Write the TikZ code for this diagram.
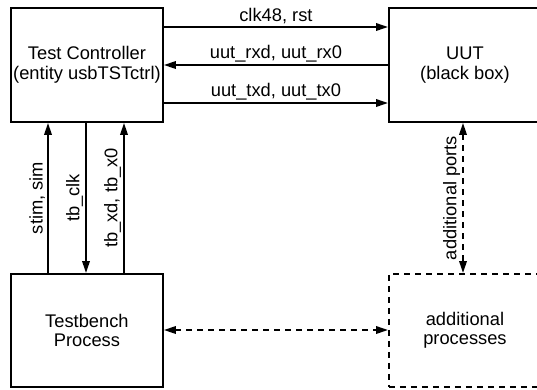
\documentclass[tikz,border=0pt]{standalone}
\usepackage{fontspec}
\setmainfont{Liberation Sans}
\usetikzlibrary{arrows.meta}
\begin{document}
\begin{tikzpicture}[x=1pt,y=-1pt,line width=1.9pt,
  txt/.style={font=\fontsize{18.3}{19.5}\selectfont},
  box/.style={draw, txt, inner sep=0pt, align=center, anchor=north west},
  sig/.style={-{Triangle[length=12pt,width=7.5pt]}},
  bisig/.style={{Triangle[length=12pt,width=7.5pt]}-{Triangle[length=12pt,width=7.5pt]}},
  dsh/.style={dash pattern=on 6pt off 5pt},
  lab/.style={txt, inner sep=2pt}]
\useasboundingbox[clip] (0,0) rectangle (537,389);
\node[box, minimum width=152pt, minimum height=114pt] (tc) at (10,7) {Test Controller\\(entity usbTSTctrl)};
\node[box, minimum width=152pt, minimum height=114pt] (uut) at (388,7) {UUT\\(black box)};
\node[box, minimum width=152pt, minimum height=113pt] (tb) at (10,273) {Testbench\\Process};
\node[box, dsh, minimum width=152pt, minimum height=113pt] (ap) at (388,273) {additional\\processes};
\coordinate (h1) at (0,27);
\coordinate (h2) at (0,65);
\coordinate (h3) at (0,103);
\coordinate (h4) at (0,330);
\coordinate (v1) at (48,0);
\coordinate (v2) at (86,0);
\coordinate (v3) at (124,0);
\coordinate (v4) at (463,0);
\draw[sig] (tc.east |- h1) -- node[lab, midway, above] {clk48, rst} (uut.west |- h1);
\draw[sig] (uut.west |- h2) -- node[lab, midway, above] {uut\_rxd, uut\_rx0} (tc.east |- h2);
\draw[sig] (tc.east |- h3) -- node[lab, midway, above] {uut\_txd, uut\_tx0} (uut.west |- h3);
\draw[sig] (tb.north -| v1) -- node[lab, midway, rotate=90, anchor=south] {stim, sim} (tc.south -| v1);
\draw[sig] (tc.south -| v2) -- node[lab, midway, rotate=90, anchor=south] {tb\_clk} (tb.north -| v2);
\draw[sig] (tb.north -| v3) -- node[lab, midway, rotate=90, anchor=south] {tb\_xd, tb\_x0} (tc.south -| v3);
\draw[bisig, dsh] (uut.south -| v4) -- node[lab, midway, rotate=90, anchor=south] {additional ports} (ap.north -| v4);
\draw[bisig, dsh] (tb.east |- h4) -- (ap.west |- h4);
\end{tikzpicture}
\end{document}
